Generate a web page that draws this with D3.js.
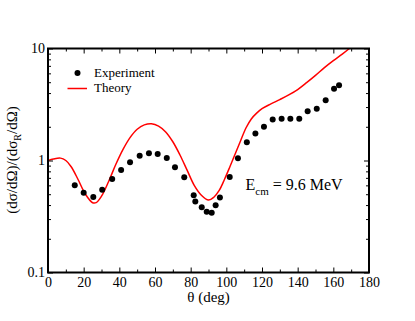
<!DOCTYPE html>
<html>
<head>
<meta charset="utf-8">
<script src="https://cdn.jsdelivr.net/npm/d3@7"></script>
<style>
  body { margin: 0; background: #fff; }
  svg text { font-family: "Liberation Serif", "DejaVu Serif", serif; fill: #000; }
</style>
</head>
<body>
<div id="chart"></div>
<script>
// Experiment points (angle in deg, ratio to Rutherford)
var expAngle = [15, 20, 25.4, 30.4, 36, 41, 46, 51.4, 56.6, 61.5, 66.6, 71.2, 76.4,
  81.7, 82.6, 86.2, 89, 91.8, 94, 96.4, 101.9, 106.5, 111.5, 116.3, 121.1, 126,
  131, 135.9, 140.9, 145.6, 150.7, 155.7, 160.4, 163.2];
var expValue = [0.60, 0.514, 0.473, 0.547, 0.685, 0.824, 0.966, 1.10, 1.16, 1.145, 1.055, 0.871, 0.71,
  0.49, 0.43, 0.383, 0.348, 0.341, 0.399, 0.467, 0.714, 1.048, 1.457, 1.74, 2.0, 2.32,
  2.36, 2.36, 2.36, 2.75, 2.90, 3.45, 4.38, 4.69];

// Theory curve
var thAngle = [0, 3, 7, 10, 13, 17, 21, 25, 27, 30, 34, 38, 42, 46, 50, 54, 58, 62, 66, 70,
  74, 78, 82, 86, 90, 93, 96, 99, 102, 105, 108, 111, 114, 117, 120, 125, 130, 135, 140,
  145, 150, 155, 160, 165, 169];
var thValue = [1.0, 1.03, 1.05, 1.0, 0.88, 0.67, 0.5, 0.42, 0.42, 0.48, 0.65, 0.92, 1.25, 1.6, 1.9,
  2.08, 2.13, 2.03, 1.8, 1.47, 1.12, 0.82, 0.6, 0.49, 0.443, 0.47, 0.54, 0.68, 0.88, 1.15, 1.5,
  1.95, 2.35, 2.65, 2.9, 3.2, 3.5, 3.85, 4.3, 4.95, 5.75, 6.75, 7.8, 8.9, 10.0];

var xTicks = [0, 20, 40, 60, 80, 100, 120, 140, 160, 180];
var yMajor = [0.1, 1, 10];

var serif = "'Liberation Serif', 'DejaVu Serif', serif";

var svgWidth = 415, svgHeight = 321;
var margin = {top: 48.5, right: 46, bottom: 48.5, left: 48};
var width = svgWidth - margin.left - margin.right;
var height = svgHeight - margin.top - margin.bottom;

var svg = d3.select("#chart").append("svg")
  .attr("width", svgWidth)
  .attr("height", svgHeight)
  .style("font-family", serif);

var chart = svg.append("g")
  .attr("transform", `translate(${margin.left}, ${margin.top})`);

var x = d3.scaleLinear().domain([0, 180]).range([0, width]);
var y = d3.scaleLog().domain([0.1, 10]).range([height, 0]);

// minor ticks
var xMinor = d3.range(10, 180, 20);
var yMinor = [];
[0.1, 1].forEach(function(d) {
  for (var k = 2; k <= 9; k++) yMinor.push(d * k);
});

chart.append("clipPath").attr("id", "clip")
  .append("rect").attr("width", width).attr("height", height);

// theory line
var line = d3.line()
  .x(function(d, i) { return x(thAngle[i]); })
  .y(function(d, i) { return y(thValue[i]); })
  .curve(d3.curveCatmullRom);

chart.append("path")
  .datum(thAngle)
  .attr("clip-path", "url(#clip)")
  .attr("d", line)
  .attr("fill", "none")
  .attr("stroke", "#ff0000")
  .attr("stroke-width", 1.5);

// experiment points
chart.selectAll(".pt")
  .data(expAngle)
  .enter()
  .append("circle")
  .attr("class", "pt")
  .attr("cx", function(d) { return x(d); })
  .attr("cy", function(d, i) { return y(expValue[i]); })
  .attr("r", 3)
  .attr("fill", "#000");

// axes
function styleAxis(g) {
  g.attr("font-family", null).style("font-family", serif);
  g.select(".domain").remove();
  g.selectAll(".tick line").attr("stroke", "#000").attr("stroke-width", 1);
  g.selectAll("text").style("font-size", "14px").style("font-family", serif);
}

chart.append("g")
  .attr("transform", `translate(0, ${height})`)
  .call(d3.axisBottom(x).tickValues(xTicks).tickSize(-5).tickPadding(5).tickFormat(d3.format("d")))
  .call(styleAxis);
chart.append("g")
  .attr("transform", `translate(0, ${height})`)
  .call(d3.axisBottom(x).tickValues(xMinor).tickSize(-3).tickFormat(""))
  .call(styleAxis);
chart.append("g")
  .call(d3.axisTop(x).tickValues(xTicks).tickSize(-5).tickFormat(""))
  .call(styleAxis);
chart.append("g")
  .call(d3.axisTop(x).tickValues(xMinor).tickSize(-3).tickFormat(""))
  .call(styleAxis);

chart.append("g")
  .call(d3.axisLeft(y).tickValues(yMajor).tickSize(-5).tickPadding(3)
    .tickFormat(function(d) { return d === 0.1 ? "0.1" : String(d); }))
  .call(styleAxis);
chart.append("g")
  .call(d3.axisLeft(y).tickValues(yMinor).tickSize(-3).tickFormat(""))
  .call(styleAxis);
chart.append("g")
  .attr("transform", `translate(${width}, 0)`)
  .call(d3.axisRight(y).tickValues(yMajor).tickSize(-5).tickFormat(""))
  .call(styleAxis);
chart.append("g")
  .attr("transform", `translate(${width}, 0)`)
  .call(d3.axisRight(y).tickValues(yMinor).tickSize(-3).tickFormat(""))
  .call(styleAxis);

// frame
chart.append("rect")
  .attr("width", width)
  .attr("height", height)
  .attr("fill", "none")
  .attr("stroke", "#000")
  .attr("stroke-width", 2);

// axis labels
svg.append("text")
  .attr("transform", "translate(17, 160) rotate(-90)")
  .attr("text-anchor", "middle")
  .style("font-size", "15px")
  .html('(dσ/dΩ)/(dσ<tspan font-size="10px" dy="4">R</tspan><tspan dy="-4">/dΩ)</tspan>');

svg.append("text")
  .attr("x", margin.left + width / 2)
  .attr("y", 302)
  .attr("text-anchor", "middle")
  .style("font-size", "15px")
  .text("θ (deg)");

// legend
svg.append("circle").attr("cx", 77.5).attr("cy", 73).attr("r", 3).attr("fill", "#000");
svg.append("text").attr("x", 94).attr("y", 77).style("font-size", "13px").text("Experiment");
svg.append("line").attr("x1", 67.5).attr("x2", 87).attr("y1", 88.5).attr("y2", 88.5)
  .attr("stroke", "#ff0000").attr("stroke-width", 1.5);
svg.append("text").attr("x", 94).attr("y", 92).style("font-size", "13px").text("Theory");

// energy annotation
svg.append("text")
  .attr("x", 245.5)
  .attr("y", 189.5)
  .style("font-size", "16px")
  .html('E<tspan font-size="11px" dy="5">cm</tspan><tspan dy="-5"> = 9.6 MeV</tspan>');
</script>
</body>
</html>
